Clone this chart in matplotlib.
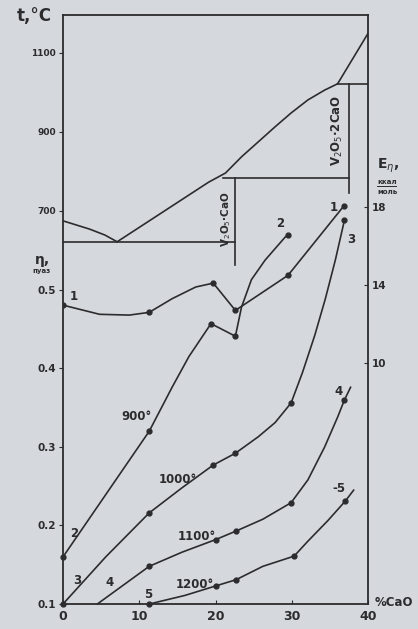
import matplotlib
matplotlib.use("Agg")
import matplotlib.pyplot as plt

# composition axis, % CaO
x_ticks = [0, 10, 20, 30, 40]

# phase diagram V2O5 - CaO (temperature, deg C)
liq_left_x = [0, 3.5, 5.5, 7.1]
liq_left_t = [675, 654, 639, 622]
liq_mid_x = [7.1, 19.1, 21.3, 23.4, 25.6, 27.8, 29.9, 32.1, 34.3, 36.0]
liq_mid_t = [622, 773, 796, 837, 875, 913, 948, 981, 1006, 1022]
liq_right_x = [36.0, 40.0]
liq_right_t = [1022, 1150]
eutectic_t = 622
eutectic_x = [0, 22.5]
peritectic_t = 784
peritectic_x = [21.0, 37.5]
upper_t = 1022
upper_x = [36.0, 40.0]
cmp1_x, cmp1_t = 22.5, [784, 563]   # V2O5*CaO
cmp2_x, cmp2_t = 37.5, [1022, 746]  # V2O5*2CaO
t_ticks = [700, 900, 1100]

# curve 1: activation energy of viscous flow, kcal/mol
e_pts_x = [0, 11.3, 19.7, 22.6, 29.5, 36.8]
e_pts_y = [12.97, 12.6, 14.1, 12.7, 14.5, 18.05]
e_line_x = [0, 4.8, 8.7, 11.3, 14.3, 17.4, 19.7, 22.6, 29.5, 36.8]
e_line_y = [12.97, 12.5, 12.46, 12.6, 13.3, 13.9, 14.1, 12.7, 14.5, 18.05]
e_ticks = [10, 14, 18]

# curves 2-5: viscosity isotherms, poise
v900_pts_x = [0, 11.3, 19.4, 22.6, 29.5]
v900_pts_y = [0.160, 0.320, 0.457, 0.441, 0.570]
v900_x = [0, 11.3, 14.3, 16.5, 19.4, 22.6, 23.4, 24.7, 26.5, 29.1, 29.5]
v900_y = [0.160, 0.320, 0.376, 0.415, 0.457, 0.441, 0.478, 0.513, 0.538, 0.567, 0.570]

v1000_pts_x = [0, 11.3, 19.7, 22.6, 29.9, 36.9]
v1000_pts_y = [0.100, 0.216, 0.277, 0.292, 0.356, 0.589]
v1000_x = [0, 5.6, 11.3, 15.6, 19.7, 22.6, 25.6, 27.8, 29.9, 31.4, 33.0, 34.4, 35.7, 36.9]
v1000_y = [0.100, 0.160, 0.216, 0.248, 0.277, 0.292, 0.313, 0.331, 0.356, 0.395, 0.442,
           0.489, 0.538, 0.589]

v1100_pts_x = [11.3, 20.0, 22.7, 29.9, 36.9]
v1100_pts_y = [0.148, 0.182, 0.193, 0.229, 0.360]
v1100_x = [4.5, 7.9, 11.3, 15.6, 20.0, 22.7, 26.2, 29.9, 32.1, 34.3, 36.0, 36.9, 37.7]
v1100_y = [0.100, 0.124, 0.148, 0.166, 0.182, 0.193, 0.208, 0.229, 0.258, 0.300, 0.338,
           0.360, 0.376]

v1200_pts_x = [11.3, 20.0, 22.7, 30.3, 37.0]
v1200_pts_y = [0.100, 0.123, 0.131, 0.161, 0.231]
v1200_x = [11.3, 16.0, 20.0, 22.7, 26.2, 30.3, 32.1, 34.7, 37.0, 38.1]
v1200_y = [0.100, 0.111, 0.123, 0.131, 0.148, 0.161, 0.180, 0.206, 0.231, 0.245]
eta_ticks = [0.1, 0.2, 0.3, 0.4, 0.5]

INK = "#2c2c2e"
PAPER = "#d5d9de"


def main():
    plt.rcParams["font.family"] = ["DejaVu Sans"]
    plt.rcParams["text.color"] = INK

    fig = plt.figure(figsize=(4.18, 6.29), dpi=100, facecolor=PAPER)
    ax = fig.add_axes([0.1507, 0.0397, 0.730, 0.9364])
    ax.set_facecolor(PAPER)
    ax.set_xlim(0, 40)
    ax.set_ylim(0.1, 0.850)

    # temperature scale shares the left spine with viscosity
    ax_t = ax.twinx()
    ax_t.set_ylim(-295, 1196)
    ax_t.yaxis.tick_left()
    ax_t.set_yticks(t_ticks)
    ax_t.set_yticklabels([str(t) for t in t_ticks])

    # activation energy scale on the right spine
    ax_e = ax.twinx()
    ax_e.set_ylim(-2.36, 27.85)
    ax_e.set_yticks(e_ticks)
    ax_e.set_yticklabels([str(t) for t in e_ticks])

    for a in (ax_t, ax_e):
        for s in a.spines.values():
            s.set_visible(False)
    for s in ax.spines.values():
        s.set_color(INK)
        s.set_linewidth(1.3)

    ax.set_xticks(x_ticks)
    ax.set_xticklabels([str(v) for v in x_ticks], fontsize=9, fontweight="bold")
    ax.tick_params(axis="x", direction="in", length=3, color=INK, pad=4, labelcolor=INK)
    ax.set_yticks(eta_ticks)
    ax.set_yticklabels([str(v) for v in eta_ticks], fontsize=7.5, fontweight="bold")
    ax.tick_params(axis="y", direction="out", length=3, color=INK, pad=2, labelcolor=INK)
    ax_t.tick_params(axis="y", direction="out", length=3, color=INK, pad=2,
                     labelsize=6.5, labelcolor=INK)
    for lab in ax_t.get_yticklabels():
        lab.set_fontweight("bold")
    ax_e.tick_params(axis="y", direction="in", length=3, color=INK, pad=3,
                     labelsize=7.5, labelcolor=INK)
    for lab in ax_e.get_yticklabels():
        lab.set_fontweight("bold")

    lw = 1.2
    # phase diagram
    ax_t.plot(liq_left_x, liq_left_t, color=INK, lw=lw)
    ax_t.plot(liq_mid_x, liq_mid_t, color=INK, lw=lw)
    ax_t.plot(liq_right_x, liq_right_t, color=INK, lw=lw)
    ax_t.plot(eutectic_x, [eutectic_t] * 2, color=INK, lw=lw)
    ax_t.plot(peritectic_x, [peritectic_t] * 2, color=INK, lw=lw)
    ax_t.plot(upper_x, [upper_t] * 2, color=INK, lw=lw)
    ax_t.plot([cmp1_x] * 2, cmp1_t, color=INK, lw=lw)
    ax_t.plot([cmp2_x] * 2, cmp2_t, color=INK, lw=lw)
    ax_t.text(cmp1_x - 1.1, 680, "V$_2$O$_5$·CaO", rotation=90, ha="center",
              va="center", fontsize=7.5, fontweight="bold")
    ax_t.text(cmp2_x - 1.5, 905, "V$_2$O$_5$·2CaO", rotation=90, ha="center",
              va="center", fontsize=8.5, fontweight="bold")

    # activation energy
    ax_e.plot(e_line_x, e_line_y, color=INK, lw=lw)
    ax_e.plot(e_pts_x, e_pts_y, "o", color=INK, ms=3.5)

    # viscosity isotherms
    for xs, ys, px, py in [(v900_x, v900_y, v900_pts_x, v900_pts_y),
                           (v1000_x, v1000_y, v1000_pts_x, v1000_pts_y),
                           (v1100_x, v1100_y, v1100_pts_x, v1100_pts_y),
                           (v1200_x, v1200_y, v1200_pts_x, v1200_pts_y)]:
        ax.plot(xs, ys, color=INK, lw=lw, clip_on=False)
        ax.plot(px, py, "o", color=INK, ms=3.5, clip_on=False)

    # curve numbers and isotherm temperatures
    fs = 8.5
    ax.text(0.9, 0.487, "1", fontsize=fs, fontweight="bold")
    ax.text(35.0, 0.600, "1", fontsize=fs, fontweight="bold")
    ax.text(1.0, 0.185, "2", fontsize=fs, fontweight="bold")
    ax.text(28.0, 0.580, "2", fontsize=fs, fontweight="bold")
    ax.text(1.4, 0.125, "3", fontsize=fs, fontweight="bold")
    ax.text(37.3, 0.560, "3", fontsize=fs, fontweight="bold")
    ax.text(5.6, 0.123, "4", fontsize=fs, fontweight="bold")
    ax.text(35.6, 0.366, "4", fontsize=fs, fontweight="bold")
    ax.text(10.6, 0.108, "5", fontsize=fs, fontweight="bold")
    ax.text(35.3, 0.243, "-5", fontsize=fs, fontweight="bold")
    tfs = 8.5
    ax.text(7.7, 0.334, "900°", fontsize=tfs, fontweight="bold")
    ax.text(12.6, 0.254, "1000°", fontsize=tfs, fontweight="bold")
    ax.text(15.0, 0.181, "1100°", fontsize=tfs, fontweight="bold")
    ax.text(14.8, 0.120, "1200°", fontsize=tfs, fontweight="bold")

    # axis captions
    fig.text(0.040, 0.966, "t,°C", fontsize=12, fontweight="bold")
    fig.text(0.083, 0.580, "η,", fontsize=10, fontweight="bold")
    fig.text(0.077, 0.566, "пуаз", fontsize=5, fontweight="bold")
    fig.text(0.902, 0.732, "E$_η$,", fontsize=10, fontweight="bold")
    fig.text(0.904, 0.708, "ккал", fontsize=5, fontweight="bold")
    fig.text(0.904, 0.692, "моль", fontsize=5, fontweight="bold")
    fig.add_artist(plt.Line2D([0.902, 0.948], [0.705, 0.705], color=INK, lw=0.7))
    fig.text(0.897, 0.036, "%CaO", fontsize=8.5, fontweight="bold")

    fig.savefig("out.png", dpi=100, facecolor=PAPER)


if __name__ == "__main__":
    main()
